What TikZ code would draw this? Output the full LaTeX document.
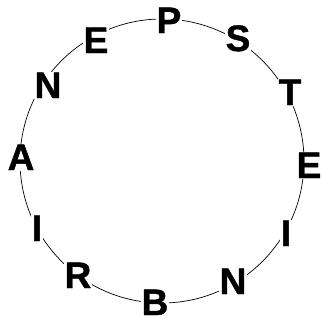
\documentclass[tikz,border=0pt]{standalone}
\usepackage{fontspec}
\newfontfamily\heavy{Liberation Sans Bold}[FakeBold=1.2]
\begin{document}
\begin{tikzpicture}[x=1bp,y=-1bp,
  letter/.style={fill=white,inner sep=0.5bp,text height=26bp,text depth=0pt,font=\fontsize{37}{37}\selectfont\heavy}]
\useasboundingbox (0,0) rectangle (322,320);
\node[draw,circle,minimum size=284bp,inner sep=0pt,line width=0.7bp] (ring) at (162,161) {};
\node[letter] (p) at (169,20) {P};
\node[letter] (s) at (238,38) {S};
\node[letter] (t) at (290,92) {T};
\node[letter] (e2) at (309,165) {E};
\node[letter] (i2) at (286,233) {I};
\node[letter] (n2) at (233,281) {N};
\node[letter] (b) at (155,302) {B};
\node[letter] (r) at (78,275) {R};
\node[letter] (i1) at (37,228) {I};
\node[letter] (a) at (21,157) {A};
\node[letter] (n1) at (48,85) {N};
\node[letter] (e1) at (96,40) {E};
\end{tikzpicture}
\end{document}
